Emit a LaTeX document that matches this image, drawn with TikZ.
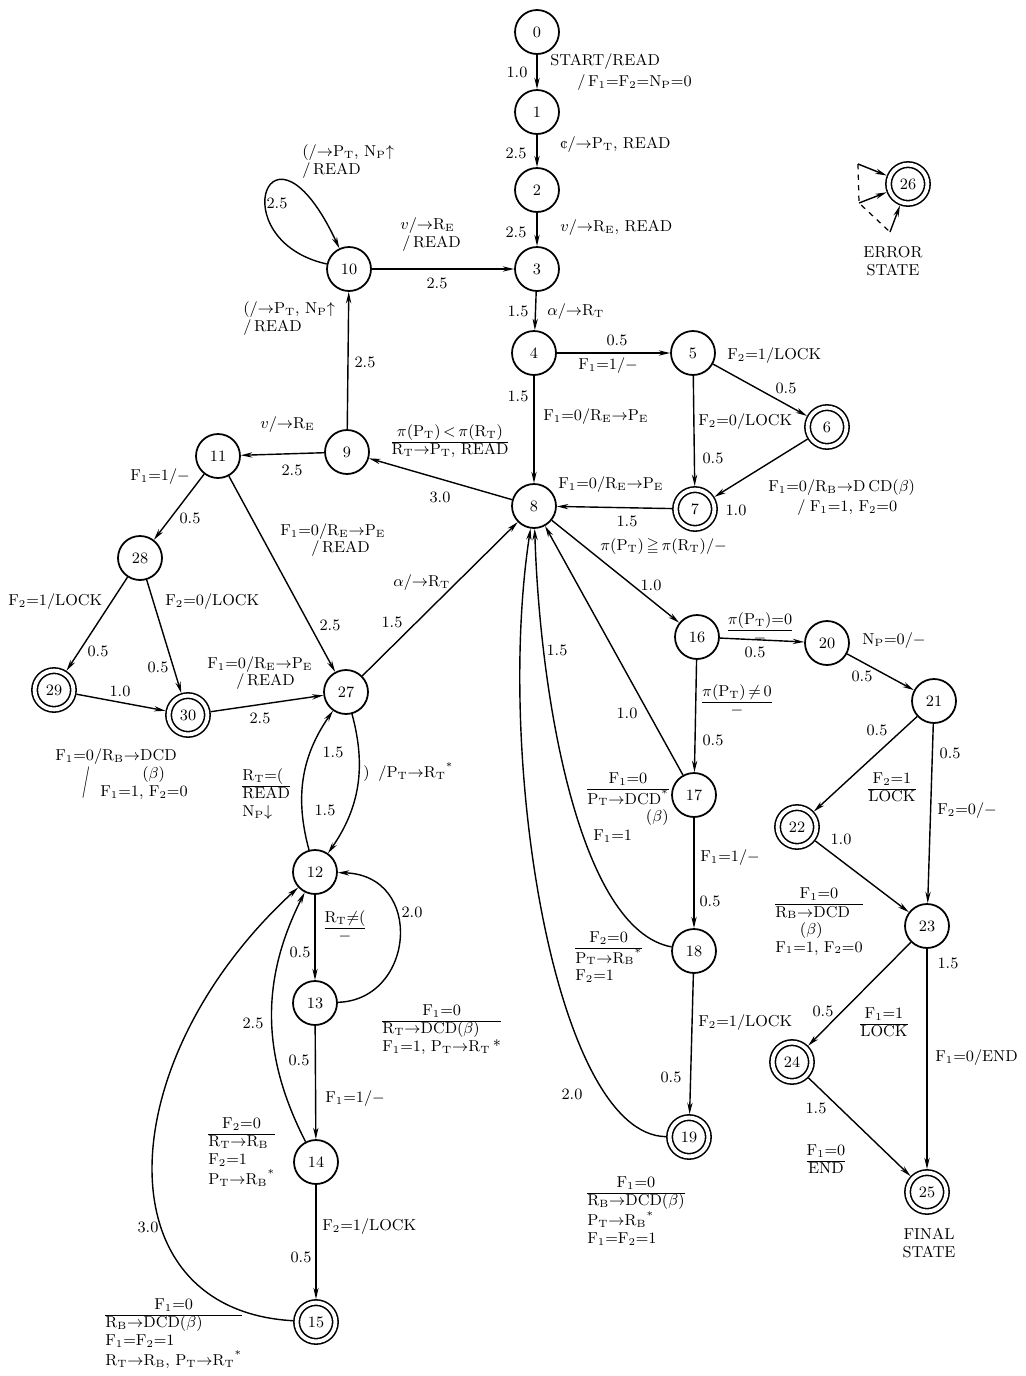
\documentclass[tikz,border=0pt]{standalone}
\usepackage{fontspec}
\usepackage{amssymb}
\usetikzlibrary{arrows.meta}
\newcommand\sar{\ensuremath{\rightarrow}}
\newcommand\sFa{F\textsubscript{1}}
\newcommand\sFb{F\textsubscript{2}}
\newcommand\sNp{N\textsubscript{P}}
\newcommand\sPt{P\textsubscript{T}}
\newcommand\sRt{R\textsubscript{T}}
\newcommand\sRe{R\textsubscript{E}}
\newcommand\sRb{R\textsubscript{B}}
\newcommand\sPe{P\textsubscript{E}}
\newcommand\stackfr[2]{\begin{tabular}{@{}c@{}}#1\\\hline #2\end{tabular}}
\newcommand\mc[1]{\multicolumn{1}{@{}c@{}}{#1}}
\begin{document}
\begin{tikzpicture}[x=0.02cm,y=-0.02cm,
  state/.style={circle,draw,line width=1pt,minimum size=0.88cm,inner sep=0pt,font=\fontsize{9}{10}\selectfont},
  final/.style={circle,draw,line width=0.9pt,double,double distance=2.2pt,minimum size=0.776cm,inner sep=0pt,outer sep=2pt,font=\fontsize{9}{10}\selectfont},
  edge/.style={line width=0.8pt,-{Stealth[length=6.5pt,width=3pt]}},
  lbl/.style={font=\fontsize{9}{10}\selectfont,inner sep=0pt},
  wt/.style={font=\fontsize{9}{10}\selectfont,inner sep=0pt}]
\useasboundingbox (0,0) rectangle (1026,1376);
% states
\node[state] (n0) at (537,32) {0};
\node[state] (n1) at (537,112) {1};
\node[state] (n2) at (537,190) {2};
\node[state] (n3) at (537,269) {3};
\node[state] (n4) at (534,353) {4};
\node[state] (n5) at (693,353) {5};
\node[final] (n6) at (827,427) {6};
\node[final] (n7) at (695,509) {7};
\node[state] (n8) at (534,506) {8};
\node[state] (n9) at (347,452) {9};
\node[state] (n10) at (349,269) {10};
\node[state] (n11) at (218,456) {11};
\node[state] (n12) at (315,872) {12};
\node[state] (n13) at (315,1003) {13};
\node[state] (n14) at (316,1162) {14};
\node[final] (n15) at (316,1322) {15};
\node[state] (n16) at (697,637) {16};
\node[state] (n17) at (694,795) {17};
\node[state] (n18) at (694,951) {18};
\node[final] (n19) at (689,1137) {19};
\node[state] (n20) at (827,643) {20};
\node[state] (n21) at (934,701) {21};
\node[final] (n22) at (797,827) {22};
\node[state] (n23) at (927,926) {23};
\node[final] (n24) at (792,1062) {24};
\node[final] (n25) at (927,1192) {25};
\node[final] (n26) at (908,184) {26};
\node[state] (n27) at (346,692) {27};
\node[state] (n28) at (140,558) {28};
\node[final] (n29) at (54,690) {29};
\node[final] (n30) at (188,715) {30};
% straight edges
\draw[edge] (n0) -- (n1);
\draw[edge] (n1) -- (n2);
\draw[edge] (n2) -- (n3);
\draw[edge] (n3) -- (n4);
\draw[edge] (n10) -- (n3);
\draw[edge] (n4) -- (n5);
\draw[edge] (n4) -- (n8);
\draw[edge] (n5) -- (n6);
\draw[edge] (n5) -- (n7);
\draw[edge] (n6) -- (n7);
\draw[edge] (n7) -- (n8);
\draw[edge] (n8) -- (n9);
\draw[edge] (n9) -- (n10);
\draw[edge] (n9) -- (n11);
\draw[edge] (n11) -- (n28);
\draw[edge] (n11) -- (n27);
\draw[edge] (n28) -- (n29);
\draw[edge] (n28) -- (n30);
\draw[edge] (n29) -- (n30);
\draw[edge] (n30) -- (n27);
\draw[edge] (n27) -- (n8);
\draw[edge] (n12) -- (n13);
\draw[edge] (n13) -- (n14);
\draw[edge] (n14) -- (n15);
\draw[edge] (n8) -- (n16);
\draw[edge] (n16) -- (n20);
\draw[edge] (n20) -- (n21);
\draw[edge] (n16) -- (n17);
\draw[edge] (n17) -- (n8);
\draw[edge] (n17) -- (n18);
\draw[edge] (n18) -- (n19);
\draw[edge] (n21) -- (n22);
\draw[edge] (n21) -- (n23);
\draw[edge] (n22) -- (n23);
\draw[edge] (n23) -- (n24);
\draw[edge] (n23) -- (n25);
\draw[edge] (n24) -- (n25);
% curved edges
\draw[edge] (n10) .. controls (220,240) and (270,100) .. (n10);
\draw[edge] (n12) to[bend left=25] (n27);
\draw[edge] (n27) to[bend left=25] (n12);
\draw[edge] (n13) .. controls (415,1000) and (425,875) .. (n12);
\draw[edge] (n14) to[bend left=27] (n12);
\draw[edge] (n15) .. controls (100,1310) and (110,1060) .. (n12);
\draw[edge] (n18) .. controls (580,930) and (540,700) .. (n8);
\draw[edge] (n19) .. controls (555,1135) and (495,760) .. (n8);
% error state arrows
\coordinate (e1) at (858,164);
\coordinate (e2) at (859,203);
\coordinate (e3) at (890,232);
\draw[edge] (e1) -- (n26);
\draw[edge] (e2) -- (n26);
\draw[edge] (e3) -- (n26);
\draw[dashed,line width=0.7pt] (e1) -- (e2) -- (e3);
% weights
\node[wt] (w01) at (517,72) {1.0};
\node[wt] (w12) at (516,153) {2.5};
\node[wt] (w23) at (516,232) {2.5};
\node[wt] (w34) at (518,311) {1.5};
\node[wt] (w45) at (617,340) {0.5};
\node[wt] (w48) at (518,396) {1.5};
\node[wt] (w56) at (786,388) {0.5};
\node[wt] (w57) at (713,458) {0.5};
\node[wt] (w67) at (736,510) {1.0};
\node[wt] (w78) at (627,521) {1.5};
\node[wt] (w103) at (437,283) {2.5};
\node[wt] (w10l) at (277,203) {2.5};
\node[wt] (w910) at (365,362) {2.5};
\node[wt] (w89) at (440,497) {3.0};
\node[wt] (w911) at (292,470) {2.5};
\node[wt] (w1128) at (190,518) {0.5};
\node[wt] (w1127) at (330,625) {2.5};
\node[wt] (w2829) at (98,651) {0.5};
\node[wt] (w2830) at (158,667) {0.5};
\node[wt] (w2930) at (120,691) {1.0};
\node[wt] (w3027) at (260,718) {2.5};
\node[wt] (w278) at (392,622) {1.5};
\node[wt] (w1227) at (333,752) {1.5};
\node[wt] (w2712) at (325,810) {1.5};
\node[wt] (w1213) at (300,952) {0.5};
\node[wt] (w1312) at (412,912) {2.0};
\node[wt] (w1314) at (299,1060) {0.5};
\node[wt] (w1412) at (253,1023) {2.5};
\node[wt] (w1415) at (301,1257) {0.5};
\node[wt] (w1512) at (148,1227) {3.0};
\node[wt] (w816) at (651,585) {1.0};
\node[wt] (w1620) at (755,652) {0.5};
\node[wt] (w2021) at (862,676) {0.5};
\node[wt] (w1617) at (713,740) {0.5};
\node[wt] (w178) at (627,713) {1.0};
\node[wt] (w1718) at (710,901) {0.5};
\node[wt] (w188) at (557,650) {1.5};
\node[wt] (w1819) at (671,1077) {0.5};
\node[wt] (w198) at (572,1094) {2.0};
\node[wt] (w2122) at (877,730) {0.5};
\node[wt] (w2123) at (950,753) {0.5};
\node[wt] (w2223) at (841,839) {1.0};
\node[wt] (w2324) at (823,1011) {0.5};
\node[wt] (w2325) at (948,963) {1.5};
\node[wt] (w2425) at (816,1108) {1.5};
% action labels
\node[lbl,anchor=west] (t01a) at (550,62) {START/READ};
\node[lbl,anchor=west] (t01b) at (577,83) {/\,\sFa=\sFb=\sNp=0};
\node[lbl,anchor=west] (t12) at (560,145) {\textcent/\sar\sPt, READ};
\node[lbl,anchor=west] (t23) at (560,228) {$v$/\sar\sRe, READ};
\node[lbl,anchor=west] (t103a) at (400,226) {$v$/\sar\sRe};
\node[lbl,anchor=west] (t103b) at (402,244) {/\,READ};
\node[lbl,anchor=west] (t10la) at (302,153) {(/\sar\sPt, \sNp$\uparrow$};
\node[lbl,anchor=west] (t10lb) at (302,171) {/\,READ};
\node[lbl,anchor=west] (t910a) at (243,310) {(/\sar\sPt, \sNp$\uparrow$};
\node[lbl,anchor=west] (t910b) at (243,328) {/\,READ};
\node[lbl,anchor=west] (t34) at (547,312) {$\alpha$/\sar\sRt};
\node[lbl,anchor=west] (t45) at (578,366) {\sFa=1/$-$};
\node[lbl,anchor=west] (t48) at (543,417) {\sFa=0/\sRe\sar\sPe};
\node[lbl,anchor=west] (t56) at (727,356) {\sFb=1/LOCK};
\node[lbl,anchor=west] (t57) at (698,422) {\sFb=0/LOCK};
\node[lbl,anchor=west] (t67a) at (768,488) {\sFa=0/\sRb\sar D\,CD($\beta$)};
\node[lbl,anchor=west] (t67b) at (797,508) {/\;\sFa=1, \sFb=0};
\node[lbl,anchor=west] (t78) at (558,485) {\sFa=0/\sRe\sar\sPe};
\node[lbl,anchor=west] (t816) at (600,547) {$\pi$(\sPt)\,$\geqq$\,$\pi$(\sRt)/$-$};
\node[lbl] (t1620) at (760,630) {\stackfr{$\pi$(\sPt)=0}{$-$}};
\node[lbl,anchor=west] (t2021) at (862,641) {\sNp=0/$-$};
\node[lbl] (t1617) at (737,702) {\stackfr{$\pi$(\sPt)\,$\neq$\,0}{$-$}};
\node[lbl] (t17a) at (628,799) {\begin{tabular}{@{}r@{}}\mc{\sFa=0}\\\hline \sPt\sar DCD\textsuperscript{*}\\($\beta$)\hspace{8pt}\end{tabular}};
\node[lbl,anchor=west] (t17b) at (593,836) {\sFa=1};
\node[lbl,anchor=west] (t1718) at (700,858) {\sFa=1/$-$};
\node[lbl,anchor=west] (t18) at (575,958) {\begin{tabular}{@{}l@{}}\mc{\sFb=0}\\\hline \sPt\sar\sRb\textsuperscript{*}\\\sFb=1\end{tabular}};
\node[lbl,anchor=west] (t1819) at (698,1023) {\sFb=1/LOCK};
\node[lbl,anchor=west] (t19) at (587,1212) {\begin{tabular}{@{}l@{}}\mc{\sFa=0}\\\hline \sRb\sar DCD($\beta$)\\\sPt\sar\sRb\textsuperscript{*}\\\sFa=\sFb=1\end{tabular}};
\node[lbl] (t2122) at (892,789) {\stackfr{\sFb=1}{LOCK}};
\node[lbl,anchor=west] (t2123) at (937,811) {\sFb=0/$-$};
\node[lbl,anchor=west] (t22) at (775,922) {\begin{tabular}{@{}l@{}}\mc{\sFa=0}\\\hline \sRb\sar DCD\\\hspace{14pt}($\beta$)\\\sFa=1, \sFb=0\end{tabular}};
\node[lbl] (t2324) at (884,1024) {\stackfr{\sFa=1}{LOCK}};
\node[lbl,anchor=west] (t2325) at (935,1058) {\sFa=0/END};
\node[lbl] (t2425) at (826,1161) {\stackfr{\sFa=0}{END}};
\node[lbl,align=center] (t25) at (929,1243) {FINAL\\STATE};
\node[lbl,align=center] (t26) at (893,261) {ERROR\\STATE};
\node[lbl,anchor=west] (t911) at (260,425) {$v$/\sar\sRe};
\node[lbl] (t89) at (450,442) {\stackfr{$\pi$(\sPt)\,$<$\,$\pi$(\sRt)}{\sRt\sar\sPt, READ}};
\node[lbl,anchor=west] (t1128) at (130,477) {\sFa=1/$-$};
\node[lbl,anchor=west] (t1127a) at (280,532) {\sFa=0/\sRe\sar\sPe};
\node[lbl,anchor=west] (t1127b) at (311,549) {/\,READ};
\node[lbl,anchor=west] (t2829) at (8,602) {\sFb=1/LOCK};
\node[lbl,anchor=west] (t2830) at (165,602) {\sFb=0/LOCK};
\node[lbl,anchor=west] (t3027a) at (207,665) {\sFa=0/\sRe\sar\sPe};
\node[lbl,anchor=west] (t3027b) at (236,682) {/\,READ};
\node[lbl,anchor=west] (t278) at (393,583) {$\alpha$/\sar\sRt};
\node[lbl,anchor=west] (t30a) at (55,757) {\sFa=0/\sRb\sar DCD};
\node[lbl,anchor=west] (t30b) at (142,775) {($\beta$)};
\node[lbl,anchor=west] (t30c) at (100,793) {\sFa=1, \sFb=0};
\node[lbl] (t30s) at (86,783) {\scalebox{1}[2]{/}};
\node[lbl,anchor=west] (t1227) at (242,795) {\begin{tabular}{@{}l@{}}\sRt=(\\\hline READ\\\sNp$\downarrow$\end{tabular}};
\node[lbl,anchor=west] (t2712) at (363,772) {)\;\;/\sPt\sar\sRt\textsuperscript{*}};
\node[lbl] (t1213) at (345,928) {\stackfr{\sRt$\neq$(}{$-$}};
\node[lbl,anchor=west] (t1312) at (382,1030) {\begin{tabular}{@{}l@{}}\mc{\sFa=0}\\\hline \sRt\sar DCD($\beta$)\\\sFa=1, \sPt\sar\sRt\,*\end{tabular}};
\node[lbl,anchor=west] (t1314) at (325,1099) {\sFa=1/$-$};
\node[lbl,anchor=west] (t14) at (208,1153) {\begin{tabular}{@{}l@{}}\mc{\sFb=0}\\\hline \sRt\sar\sRb\\\sFb=1\\\sPt\sar\sRb\textsuperscript{*}\end{tabular}};
\node[lbl,anchor=west] (t1415) at (322,1227) {\sFb=1/LOCK};
\node[lbl,anchor=west] (t15) at (105,1334) {\begin{tabular}{@{}l@{}}\mc{\sFa=0}\\\hline \sRb\sar DCD($\beta$)\\\sFa=\sFb=1\\\sRt\sar\sRb, \sPt\sar\sRt\textsuperscript{*}\end{tabular}};
\end{tikzpicture}
\end{document}
